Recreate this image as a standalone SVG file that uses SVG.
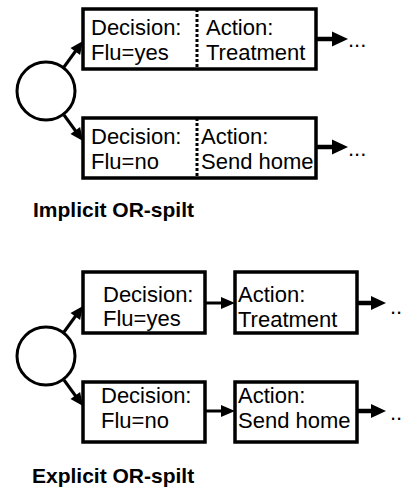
<svg xmlns="http://www.w3.org/2000/svg" width="404" height="488" viewBox="0 0 404 488">
<style>
.box{fill:#fff;stroke:#000;stroke-width:3.5}
.circ{fill:#fff;stroke:#000;stroke-width:3}
.t{font-family:"Liberation Sans",Arial,sans-serif;font-size:22px;fill:#000}
.title{font-family:"Liberation Sans",Arial,sans-serif;font-size:21px;font-weight:bold;fill:#000}
.ln{stroke:#000;stroke-width:3;fill:none}
.lnb{stroke:#000;stroke-width:4.5;fill:none}
.hd{fill:#000;stroke:none}
.div{stroke:#000;stroke-width:3;stroke-dasharray:3 2}
</style>
<rect width="404" height="488" fill="#fff"/>
<g id="connectors">
<line class="ln" x1="64" y1="67" x2="76" y2="50.5"/>
<polygon class="hd" points="83,41 80.1,55 70.5,48"/>
<line class="ln" x1="64" y1="115" x2="76" y2="131.5"/>
<polygon class="hd" points="83,141 80.1,127 70.5,134"/>
<line class="lnb" x1="316" y1="39" x2="334" y2="39"/>
<polygon class="hd" points="332,31.5 348,39 332,46.5"/>
<line class="lnb" x1="316" y1="147" x2="334" y2="147"/>
<polygon class="hd" points="332,139.5 348,147 332,154.5"/>
<line class="ln" x1="64" y1="332" x2="76" y2="315.5"/>
<polygon class="hd" points="83,306 80.1,320 70.5,313"/>
<line class="ln" x1="64" y1="380" x2="76" y2="396.5"/>
<polygon class="hd" points="83,406 80.1,392 70.5,399"/>
<line class="ln" x1="205" y1="303" x2="223" y2="303"/>
<polygon class="hd" points="221,297 235,303 221,309"/>
<line class="lnb" x1="357" y1="303" x2="373" y2="303"/>
<polygon class="hd" points="371,296 386,303 371,310"/>
<line class="ln" x1="205" y1="411" x2="223" y2="411"/>
<polygon class="hd" points="221,405 235,411 221,417"/>
<line class="lnb" x1="357" y1="411" x2="373" y2="411"/>
<polygon class="hd" points="371,404 386,411 371,418"/>
</g>
<g id="implicit-split">
<circle class="circ" cx="46" cy="91" r="29"/>
</g>
<g id="implicit-yes">
<rect class="box" x="83" y="9" width="233" height="60"/>
<line class="div" x1="197" y1="9" x2="197" y2="69"/>
<text class="t" x="91" y="35">Decision:</text>
<text class="t" x="91" y="60">Flu=yes</text>
<text class="t" x="206" y="35">Action:</text>
<text class="t" x="206" y="60">Treatment</text>
</g>
<g id="implicit-yes-next"><text class="t" x="348" y="47">...</text></g>
<g id="implicit-no">
<rect class="box" x="83" y="118" width="233" height="60"/>
<line class="div" x1="197" y1="118" x2="197" y2="178"/>
<text class="t" x="91" y="144">Decision:</text>
<text class="t" x="91" y="169">Flu=no</text>
<text class="t" x="201" y="144">Action:</text>
<text class="t" x="201" y="169">Send home</text>
</g>
<g id="implicit-no-next"><text class="t" x="348" y="156">...</text></g>
<text class="title" x="33" y="217">Implicit OR-spilt</text>
<g id="explicit-split">
<circle class="circ" cx="46" cy="356" r="29"/>
</g>
<g id="explicit-dec-yes">
<rect class="box" x="83" y="272" width="122" height="61"/>
<text class="t" x="103" y="302">Decision:</text>
<text class="t" x="103" y="326">Flu=yes</text>
</g>
<g id="explicit-act-treat">
<rect class="box" x="235" y="272" width="122" height="61"/>
<text class="t" x="238" y="302">Action:</text>
<text class="t" x="238" y="327">Treatment</text>
</g>
<g id="explicit-yes-next"><text class="t" x="390" y="314">..</text></g>
<g id="explicit-dec-no">
<rect class="box" x="83" y="382" width="122" height="60"/>
<text class="t" x="101" y="403">Decision:</text>
<text class="t" x="101" y="428">Flu=no</text>
</g>
<g id="explicit-act-home">
<rect class="box" x="235" y="382" width="122" height="60"/>
<text class="t" x="238" y="403">Action:</text>
<text class="t" x="238" y="428">Send home</text>
</g>
<g id="explicit-no-next"><text class="t" x="390" y="420">..</text></g>
<text class="title" x="32" y="483">Explicit OR-spilt</text>
</svg>
